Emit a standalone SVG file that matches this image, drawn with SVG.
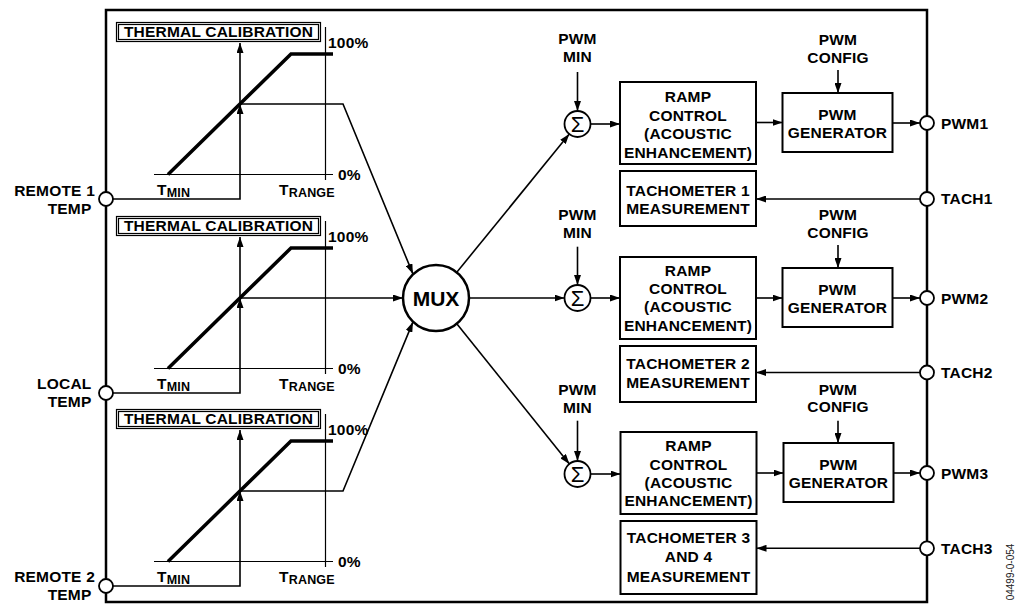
<svg xmlns="http://www.w3.org/2000/svg" width="1015" height="605" viewBox="0 0 1015 605">
<defs>
<marker id="ah" viewBox="0 0 10 7" refX="10" refY="3.5" markerWidth="10" markerHeight="7" orient="auto" markerUnits="userSpaceOnUse"><path d="M0,0 L10,3.5 L0,7 Z" fill="#000"/></marker>
<style>
.t{font-family:"Liberation Sans",Arial,Helvetica,sans-serif;font-weight:bold;font-size:15.5px;fill:#000;letter-spacing:0.2px}
.c{text-anchor:middle}
.e{text-anchor:end}
.box{fill:#fff;stroke:#000;stroke-width:2}
.tb{fill:none;stroke:#000;stroke-width:1.2}
.ln{fill:none;stroke:#000;stroke-width:1.6}
.ax{fill:none;stroke:#000;stroke-width:1.2}
.cv{fill:none;stroke:#000;stroke-width:3.5}
.pin{fill:#fff;stroke:#000;stroke-width:1.8}
.sub{font-size:12.5px}
.sig{fill:#fff;stroke:#000;stroke-width:1.8}
.sg{font-family:"Liberation Sans",Arial,sans-serif;font-size:22px;text-anchor:middle;fill:#000}
</style>
</defs>
<rect width="1015" height="605" fill="#fff"/>
<g id="frame"><rect x="106" y="10" width="821" height="592" fill="none" stroke="#000" stroke-width="2.5"/></g>

<g id="thermal1">
<rect class="tb" x="116.5" y="22.5" width="204" height="19"/>
<rect class="tb" x="118.5" y="24.5" width="200" height="15"/>
<text class="t c" x="218.5" y="37">THERMAL CALIBRATION</text>
<path class="ax" d="M325.5,27 V180 M154,174.5 H333"/>
<path class="cv" d="M168,174.5 L291,54 H333"/>
<text class="t" x="328" y="48">100%</text>
<text class="t" x="338" y="179.5">0%</text>
<text class="t" x="157" y="194.5">T<tspan class="sub" dy="2.5">MIN</tspan></text>
<text class="t" x="279" y="194.5">T<tspan class="sub" dy="2.5">RANGE</tspan></text>
</g>
<g id="thermal2" transform="translate(0,194)">
<rect class="tb" x="116.5" y="22.5" width="204" height="19"/>
<rect class="tb" x="118.5" y="24.5" width="200" height="15"/>
<text class="t c" x="218.5" y="37">THERMAL CALIBRATION</text>
<path class="ax" d="M325.5,27 V180 M154,174.5 H333"/>
<path class="cv" d="M168,174.5 L291,54 H333"/>
<text class="t" x="328" y="48">100%</text>
<text class="t" x="338" y="179.5">0%</text>
<text class="t" x="157" y="194.5">T<tspan class="sub" dy="2.5">MIN</tspan></text>
<text class="t" x="279" y="194.5">T<tspan class="sub" dy="2.5">RANGE</tspan></text>
</g>
<g id="thermal3" transform="translate(0,387)">
<rect class="tb" x="116.5" y="22.5" width="204" height="19"/>
<rect class="tb" x="118.5" y="24.5" width="200" height="15"/>
<text class="t c" x="218.5" y="37">THERMAL CALIBRATION</text>
<path class="ax" d="M325.5,27 V180 M154,174.5 H333"/>
<path class="cv" d="M168,174.5 L291,54 H333"/>
<text class="t" x="328" y="48">100%</text>
<text class="t" x="338" y="179.5">0%</text>
<text class="t" x="157" y="194.5">T<tspan class="sub" dy="2.5">MIN</tspan></text>
<text class="t" x="279" y="194.5">T<tspan class="sub" dy="2.5">RANGE</tspan></text>
</g>

<g id="connectors">
<path class="ln" d="M112.5,199 H240 V104" marker-end="url(#ah)"/>
<path class="ln" d="M240,104 V43" marker-end="url(#ah)"/>
<path class="ln" d="M240,104 H343 L412.9,273.9" marker-end="url(#ah)"/>
<path class="ln" d="M112.5,393 H240 V298" marker-end="url(#ah)"/>
<path class="ln" d="M240,298 V237" marker-end="url(#ah)"/>
<path class="ln" d="M240,298 H403" marker-end="url(#ah)"/>
<path class="ln" d="M112.5,586 H240 V491" marker-end="url(#ah)"/>
<path class="ln" d="M240,491 V430" marker-end="url(#ah)"/>
<path class="ln" d="M240,491 H343 L412.9,322.1" marker-end="url(#ah)"/>
<path class="ln" d="M457,272 L569.3,134.1" marker-end="url(#ah)"/>
<path class="ln" d="M469,298 H564.5" marker-end="url(#ah)"/>
<path class="ln" d="M457,324 L569.4,463.9" marker-end="url(#ah)"/>
<path class="ln" d="M577.5,72 V111" marker-end="url(#ah)"/>
<path class="ln" d="M577.5,246.7 V285" marker-end="url(#ah)"/>
<path class="ln" d="M577.5,420.7 V461" marker-end="url(#ah)"/>
<path class="ln" d="M590.5,124 H620" marker-end="url(#ah)"/>
<path class="ln" d="M590.5,298 H620" marker-end="url(#ah)"/>
<path class="ln" d="M590.5,474 H620.5" marker-end="url(#ah)"/>
<path class="ln" d="M838,70 V93" marker-end="url(#ah)"/>
<path class="ln" d="M838,245 V268" marker-end="url(#ah)"/>
<path class="ln" d="M838,420.7 V443" marker-end="url(#ah)"/>
<path class="ln" d="M756,122.5 H782.5" marker-end="url(#ah)"/>
<path class="ln" d="M756,298 H782.5" marker-end="url(#ah)"/>
<path class="ln" d="M756.5,473 H783.5" marker-end="url(#ah)"/>
<path class="ln" d="M892.5,123 H920" marker-end="url(#ah)"/>
<path class="ln" d="M892.5,298 H920" marker-end="url(#ah)"/>
<path class="ln" d="M893.5,473 H920" marker-end="url(#ah)"/>
<path class="ln" d="M920,199 H756" marker-end="url(#ah)"/>
<path class="ln" d="M920,372.5 H756" marker-end="url(#ah)"/>
<path class="ln" d="M920,548.3 H756.5" marker-end="url(#ah)"/>
</g>

<g id="in_remote1">
<circle class="pin" cx="106" cy="199" r="7"/>
<text class="t e" x="95" y="195.5">REMOTE 1</text>
<text class="t e" x="91.5" y="213.5">TEMP</text>
</g>
<g id="in_local">
<circle class="pin" cx="106" cy="393" r="7"/>
<text class="t e" x="91.5" y="388.5">LOCAL</text>
<text class="t e" x="91.5" y="407">TEMP</text>
</g>
<g id="in_remote2">
<circle class="pin" cx="106" cy="586" r="7"/>
<text class="t e" x="95" y="581.5">REMOTE 2</text>
<text class="t e" x="91.5" y="599.5">TEMP</text>
</g>

<g id="mux">
<circle cx="436" cy="298" r="33" fill="#fff" stroke="#000" stroke-width="2.5"/>
<text class="t c" x="436" y="305.5" style="font-size:21px;letter-spacing:0">MUX</text>
</g>

<g id="pwmmin1"><text class="t c" x="577.5" y="44">PWM</text><text class="t c" x="577.5" y="62.3">MIN</text></g>
<g id="pwmmin2"><text class="t c" x="577.5" y="220">PWM</text><text class="t c" x="577.5" y="238.3">MIN</text></g>
<g id="pwmmin3"><text class="t c" x="577.5" y="395">PWM</text><text class="t c" x="577.5" y="413.3">MIN</text></g>

<g id="sum1"><circle class="sig" cx="577.5" cy="124" r="13"/><text class="sg" x="577.5" y="131.5">Σ</text></g>
<g id="sum2"><circle class="sig" cx="577.5" cy="298" r="13"/><text class="sg" x="577.5" y="305.5">Σ</text></g>
<g id="sum3"><circle class="sig" cx="577.5" cy="474" r="13"/><text class="sg" x="577.5" y="481.5">Σ</text></g>

<g id="ramp1">
<rect class="box" x="620" y="82" width="136" height="82"/>
<text class="t c" x="688" y="101.5">RAMP</text>
<text class="t c" x="688" y="120.5">CONTROL</text>
<text class="t c" x="688" y="138.5">(ACOUSTIC</text>
<text class="t c" x="688" y="157.5">ENHANCEMENT)</text>
</g>
<g id="ramp2">
<rect class="box" x="620" y="257" width="136" height="82"/>
<text class="t c" x="688" y="275.5">RAMP</text>
<text class="t c" x="688" y="294">CONTROL</text>
<text class="t c" x="688" y="312">(ACOUSTIC</text>
<text class="t c" x="688" y="330.5">ENHANCEMENT)</text>
</g>
<g id="ramp3">
<rect class="box" x="620.5" y="432" width="136" height="82"/>
<text class="t c" x="688.5" y="450.5">RAMP</text>
<text class="t c" x="688.5" y="470">CONTROL</text>
<text class="t c" x="688.5" y="487.5">(ACOUSTIC</text>
<text class="t c" x="688.5" y="505.5">ENHANCEMENT)</text>
</g>

<g id="tach1box">
<rect class="box" x="620" y="171" width="136" height="55"/>
<text class="t c" x="688" y="195.5">TACHOMETER 1</text>
<text class="t c" x="688" y="213.5">MEASUREMENT</text>
</g>
<g id="tach2box">
<rect class="box" x="620" y="346" width="136" height="56"/>
<text class="t c" x="688" y="369">TACHOMETER 2</text>
<text class="t c" x="688" y="387.5">MEASUREMENT</text>
</g>
<g id="tach3box">
<rect class="box" x="620.5" y="521" width="136" height="73"/>
<text class="t c" x="688.5" y="542.5">TACHOMETER 3</text>
<text class="t c" x="688.5" y="562">AND 4</text>
<text class="t c" x="688.5" y="581.5">MEASUREMENT</text>
</g>

<g id="pwmcfg1"><text class="t c" x="838" y="45">PWM</text><text class="t c" x="838" y="62.5">CONFIG</text></g>
<g id="pwmcfg2"><text class="t c" x="838" y="219.5">PWM</text><text class="t c" x="838" y="237.5">CONFIG</text></g>
<g id="pwmcfg3"><text class="t c" x="838" y="395">PWM</text><text class="t c" x="838" y="412.3">CONFIG</text></g>

<g id="gen1">
<rect class="box" x="782.5" y="93" width="110" height="59"/>
<text class="t c" x="837.5" y="120">PWM</text>
<text class="t c" x="837.5" y="138">GENERATOR</text>
</g>
<g id="gen2">
<rect class="box" x="782.5" y="268" width="110" height="59"/>
<text class="t c" x="837.5" y="295">PWM</text>
<text class="t c" x="837.5" y="313">GENERATOR</text>
</g>
<g id="gen3">
<rect class="box" x="783.5" y="443" width="110" height="59"/>
<text class="t c" x="838.5" y="469.5">PWM</text>
<text class="t c" x="838.5" y="487.5">GENERATOR</text>
</g>

<g id="out_pwm1"><circle class="pin" cx="927" cy="123" r="7"/><text class="t" x="941" y="128.5">PWM1</text></g>
<g id="in_tach1"><circle class="pin" cx="927" cy="199" r="7"/><text class="t" x="941" y="204.3">TACH1</text></g>
<g id="out_pwm2"><circle class="pin" cx="927" cy="298" r="7"/><text class="t" x="941" y="303.5">PWM2</text></g>
<g id="in_tach2"><circle class="pin" cx="927" cy="372.5" r="7"/><text class="t" x="941" y="378">TACH2</text></g>
<g id="out_pwm3"><circle class="pin" cx="927" cy="473" r="7"/><text class="t" x="941" y="478.5">PWM3</text></g>
<g id="in_tach3"><circle class="pin" cx="927" cy="548.3" r="7"/><text class="t" x="941" y="553.8">TACH3</text></g>

<g id="figcode"><text transform="translate(1013.5,572) rotate(-90)" style="font-family:'Liberation Sans',Arial,sans-serif;font-size:10px;fill:#222;text-anchor:middle">04499-0-054</text></g>
</svg>
